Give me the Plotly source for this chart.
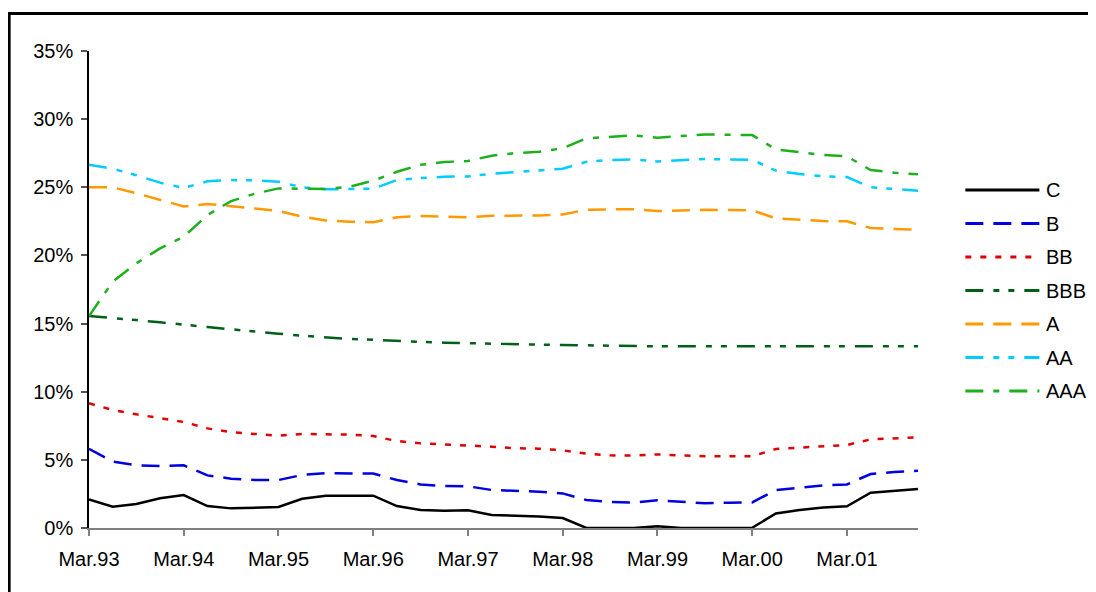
import plotly.graph_objects as go

years = ["93", "94", "95", "96", "97", "98", "99", "00", "01"]
months = ["Mar", "Jun", "Sep", "Dec"]
quarters = [f"{m}.{y}" for y in years for m in months]
tick_labels = [f"Mar.{y}" for y in years]
y_ticks = [0, 5, 10, 15, 20, 25, 30, 35]
y_tick_text = [f"{v}%" for v in y_ticks]

series_names = ["C", "B", "BB", "BBB", "A", "AA", "AAA"]

C = [2.10, 1.56, 1.76, 2.18, 2.42, 1.61, 1.44, 1.47, 1.54, 2.15, 2.37, 2.37, 2.37,
     1.61, 1.32, 1.27, 1.30, 0.95, 0.90, 0.85, 0.73, 0.00, 0.00, 0.00, 0.12,
     0.00, 0.00, 0.03, 0.02, 1.07, 1.32, 1.51, 1.59, 2.59, 2.74, 2.86]
B = [5.80, 4.87, 4.60, 4.55, 4.60, 3.86, 3.62, 3.52, 3.52, 3.89, 4.03, 4.00, 3.99,
     3.52, 3.20, 3.08, 3.06, 2.79, 2.74, 2.66, 2.54, 2.05, 1.91, 1.86, 2.04,
     1.91, 1.81, 1.86, 1.88, 2.79, 2.96, 3.13, 3.20, 3.96, 4.10, 4.20]
BB = [9.15, 8.66, 8.34, 8.05, 7.78, 7.31, 7.04, 6.90, 6.77, 6.90, 6.90, 6.85, 6.75,
      6.38, 6.21, 6.14, 6.09, 5.97, 5.85, 5.82, 5.70, 5.45, 5.33, 5.31, 5.40,
      5.31, 5.26, 5.26, 5.26, 5.80, 5.89, 5.99, 6.09, 6.50, 6.58, 6.65]
BBB = [15.55, 15.43, 15.26, 15.09, 14.94, 14.75, 14.58, 14.40, 14.26, 14.11, 13.99, 13.87, 13.81,
       13.72, 13.65, 13.60, 13.55, 13.50, 13.47, 13.45, 13.43, 13.40, 13.35, 13.33, 13.33,
       13.33, 13.33, 13.33, 13.33, 13.33, 13.33, 13.33, 13.33, 13.37, 13.35, 13.34]
A = [25.00, 25.00, 24.56, 24.06, 23.60, 23.77, 23.63, 23.45, 23.26, 22.84, 22.57, 22.47, 22.44,
     22.80, 22.89, 22.87, 22.80, 22.91, 22.93, 22.93, 23.01, 23.35, 23.38, 23.38, 23.26,
     23.33, 23.35, 23.33, 23.31, 22.72, 22.62, 22.52, 22.50, 22.01, 21.94, 21.89]
AA = [26.65, 26.36, 25.88, 25.34, 24.95, 25.44, 25.53, 25.51, 25.41, 25.00, 24.85, 24.85, 24.90,
      25.53, 25.68, 25.77, 25.80, 25.99, 26.14, 26.24, 26.36, 26.87, 27.00, 27.05, 26.90,
      27.00, 27.07, 27.05, 27.02, 26.22, 25.97, 25.80, 25.75, 25.00, 24.85, 24.75]
AAA = [15.55, 18.07, 19.42, 20.52, 21.37, 22.96, 23.99, 24.53, 24.92, 24.87, 24.87, 25.04, 25.48,
       26.14, 26.65, 26.85, 26.93, 27.32, 27.51, 27.61, 27.86, 28.59, 28.69, 28.81, 28.64,
       28.78, 28.88, 28.86, 28.83, 27.78, 27.56, 27.37, 27.27, 26.27, 26.07, 25.95]

values = [C, B, BB, BBB, A, AA, AAA]
colors = ["#000000", "#0000E0", "#E00000", "#00601A", "#FF9900", "#00CCFF", "#1DB01D"]
dashes = ["solid", "18px,10px", "6px,9px", "18px,10px,6px,9px,6px,10px",
          "18px,10px", "18px,10px,6px,9px,6px,10px", "18px,10px,6px,10px"]

OFF = 8  # page body margin
W, H = 1096 - OFF, 592 - OFF
L, R, T, Bm = 89.3 - OFF, 917.7 - OFF, 51 - OFF, 528 - OFF
FONT = "Arial, Liberation Sans, sans-serif"

fig = go.Figure()
for name, vals, col, d in zip(series_names, values, colors, dashes):
    fig.add_trace(go.Scatter(x=quarters, y=vals, mode="lines", name=name,
                             line=dict(color=col, width=2.5, dash=d),
                             showlegend=False, hoverinfo="x+y+name"))

def px(xp):
    return (xp - OFF - L) / (R - L)

def py(yp):
    return (Bm - (yp - OFF)) / (Bm - T)

shapes = []
# outer frame (top and left edges visible)
shapes.append(dict(type="line", xref="paper", yref="paper", x0=px(8), x1=px(1100),
                   y0=py(13.5), y1=py(13.5), line=dict(color="black", width=3)))
shapes.append(dict(type="line", xref="paper", yref="paper", x0=px(9.5), x1=px(9.5),
                   y0=py(12), y1=py(600), line=dict(color="black", width=3)))

annotations = []
row_y = 190
for i, (name, col, d) in enumerate(zip(series_names, colors, dashes)):
    yy = row_y + i * 33.5
    shapes.append(dict(type="line", xref="paper", yref="paper", x0=px(965), x1=px(1039),
                       y0=py(yy), y1=py(yy), line=dict(color=col, width=3, dash=d)))
    annotations.append(dict(xref="paper", yref="paper", x=px(1044), y=py(yy), text=name,
                            showarrow=False, xanchor="left", yanchor="middle",
                            font=dict(family=FONT, size=20, color="black")))

fig.update_layout(
    width=W, height=H,
    margin=dict(l=L, r=W - R, t=T, b=H - Bm, pad=0),
    paper_bgcolor="white", plot_bgcolor="white",
    font=dict(family=FONT, size=20, color="black"),
    shapes=shapes, annotations=annotations,
    showlegend=False,
)
fig.update_xaxes(type="category", categoryorder="array", categoryarray=quarters,
                 range=[0, len(quarters) - 1], tickmode="array",
                 tickvals=tick_labels, ticktext=tick_labels,
                 showline=True, linecolor="#808080", linewidth=2,
                 ticks="outside", ticklen=6, tickcolor="#808080", tickwidth=1.5,
                 showgrid=False, zeroline=False, ticklabelstandoff=6)
fig.update_yaxes(range=[0, 35], tickmode="array", tickvals=y_ticks, ticktext=y_tick_text,
                 showline=True, linecolor="black", linewidth=1.5,
                 ticks="outside", ticklen=6, tickcolor="#555555", tickwidth=1.5,
                 showgrid=False, zeroline=False, ticklabelstandoff=4)

fig.write_html("out.html")
